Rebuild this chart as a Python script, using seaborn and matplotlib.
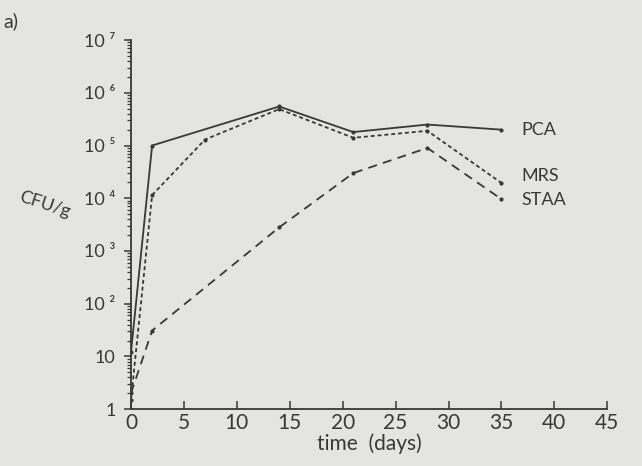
import numpy as np
import pandas as pd
import matplotlib
matplotlib.use("Agg")
import matplotlib.pyplot as plt
import matplotlib.ticker as mticker
import seaborn as sns

days_pca = [0, 2, 14, 21, 28, 35]
pca = [12, 1.0e5, 5.5e5, 1.8e5, 2.5e5, 2.0e5]
days_mrs = [0, 2, 7, 14, 21, 28, 35]
mrs = [1.5, 1.15e4, 1.3e5, 4.9e5, 1.4e5, 1.9e5, 1.95e4]
days_staa = [0, 2, 14, 21, 28, 35]
staa = [2.0, 31, 2.8e3, 3.0e4, 9.0e4, 9.6e3]

series_names = ["PCA", "MRS", "STAA"]
x_ticks = [0, 5, 10, 15, 20, 25, 30, 35, 40, 45]
y_ticks = [1, 10, 1e2, 1e3, 1e4, 1e5, 1e6, 1e7]
y_tick_labels = ["1", "10", "10 ²", "10 ³", "10 ⁴", "10 ⁵", "10 ⁶", "10 ⁷"]

sns.set_theme(style="ticks")
plt.rcParams['font.family'] = ['Lato', 'DejaVu Sans']

bg = "#e4e4e2"
ink = "#383838"
fig = plt.figure(figsize=(6.42, 4.66), dpi=100, facecolor=bg)
ax = fig.add_axes([0.204, 0.122, 0.742, 0.792], facecolor=bg)

df = pd.concat([
    pd.DataFrame({"day": days_pca, "cfu": pca, "medium": "PCA"}),
    pd.DataFrame({"day": days_mrs, "cfu": mrs, "medium": "MRS"}),
    pd.DataFrame({"day": days_staa, "cfu": staa, "medium": "STAA"}),
])

styles = {"PCA": None, "MRS": (2.2, 1.6), "STAA": (5, 3.5)}
label_shift = {"PCA": 1.0, "MRS": 1.35, "STAA": 0.95}
for name in series_names:
    sub = df[df["medium"] == name]
    dash = styles[name]
    sns.lineplot(data=sub, x="day", y="cfu", ax=ax, color=ink, lw=1.3,
                 marker="o", markersize=3, markeredgewidth=0, estimator=None)
    line = ax.get_lines()[-1]
    if dash is not None:
        line.set_dashes(dash)
    ax.text(sub["day"].iloc[-1] + 1.9, sub["cfu"].iloc[-1] * label_shift[name], name,
            fontsize=13, color=ink, va="center", ha="left")

ax.set_yscale("log")
ax.set_xlim(0, 45)
ax.set_ylim(1, 1e7)
ax.set_xticks(x_ticks)
ax.set_xticklabels([str(t) for t in x_ticks], fontsize=15, color=ink)
ax.set_yticks(y_ticks)
ax.set_yticklabels(y_tick_labels, fontsize=13, color=ink)
ax.yaxis.set_minor_locator(mticker.LogLocator(base=10, subs=np.arange(2, 10)))
ax.yaxis.set_minor_formatter(mticker.NullFormatter())
ax.tick_params(axis="x", direction="in", length=6, width=1.1, colors=ink, pad=3)
ax.tick_params(axis="y", which="major", direction="out", length=5, width=1.1, colors=ink, pad=6)
ax.tick_params(axis="y", which="minor", direction="out", length=3, width=0.9, colors=ink)
for s in ["top", "right"]:
    ax.spines[s].set_visible(False)
for s in ["left", "bottom"]:
    ax.spines[s].set_color(ink)
    ax.spines[s].set_linewidth(1.3)
ax.set_xlabel("time  (days)", fontsize=15, color=ink, labelpad=0)
ax.set_ylabel("")
fig.text(0.027, 0.562, "CFU/g", fontsize=13, color=ink, rotation=-18,
         ha="left", va="center")
fig.text(0.006, 0.955, "a)", fontsize=14, color=ink, ha="left", va="center")

fig.savefig("out.png", dpi=100, facecolor=bg)
